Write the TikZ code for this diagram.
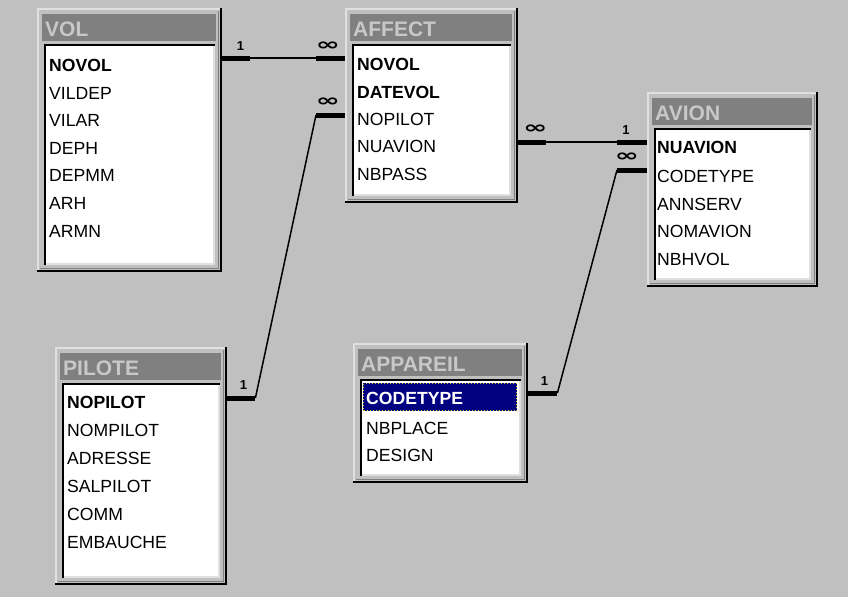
\documentclass[tikz,border=0pt]{standalone}
\usepackage{fontspec}
\setmainfont{Liberation Sans}
\newfontfamily\dejavu{DejaVu Sans}
\usepackage{tikz}
\usetikzlibrary{calc,positioning}
\definecolor{winface}{HTML}{C0C0C0}
\definecolor{winshadow}{HTML}{808080}
\definecolor{winlight}{HTML}{E0E0E0}
\definecolor{titlegray}{HTML}{C8C8C8}
\definecolor{selnavy}{HTML}{000080}
\tikzset{%
	tabbox/.style   = {inner sep=0pt, anchor=north west},
	field/.style    = {right, inner sep=0pt, font=\fontsize{17.6}{20}\selectfont},
	tabtitle/.style = {right, inner sep=0pt, text=titlegray, font=\fontsize{21}{24}\selectfont\bfseries},
	link/.style     = {line width=1.5pt},
	stub/.style     = {line width=5pt},
	card/.style     = {inner sep=0pt, font=\fontsize{13}{14}\selectfont\bfseries},
}
\newcommand{\many}{{\dejavu\bfseries\fontsize{17}{17}\selectfont\scalebox{1.7}[1]{∞}}}
% table window: name, x1, y1, x2, y2, title
\newcommand{\dbtable}[6]{%
	\fill[winface] (#2,#3) rectangle (#4,#5);
	\draw[winlight, line width=2pt] (#2+1,#5-1) -- (#2+1,#3+1) -- (#4-1,#3+1);
	\draw[black, line width=2pt] (#2,#5-1) -- (#4-1,#5-1) -- (#4-1,#3);
	\draw[winshadow, line width=1.5pt] (#2+3,#5-3.5) -- (#4-3.5,#5-3.5) -- (#4-3.5,#3+3);
	\fill[winshadow] (#2+5,#3+6) rectangle (#4-6,#3+33);
	\node[tabtitle] at (#2+8,#3+21) {#6};
	\fill[white] (#2+7,#3+36) rectangle (#4-7,#5-7);
	\draw[winlight, line width=2pt] (#2+7,#5-8) -- (#4-8,#5-8) -- (#4-8,#3+36);
	\draw[black, line width=2pt] (#2+8,#5-7) -- (#2+8,#3+37) -- (#4-7,#3+37);
	\node[tabbox, minimum width={(#4-#2)*1pt}, minimum height={(#5-#3)*1pt}] (#1) at (#2,#3) {};
}

\begin{document}
\begin{tikzpicture}[x=1pt,y=-1pt]
	\fill[winface] (0,0) rectangle (848,597);
	
	\dbtable{vol}{37}{8}{222}{272}{VOL}
	\dbtable{affect}{345}{8}{518}{203}{AFFECT}
	\dbtable{avion}{647}{92}{818}{287}{AVION}
	\dbtable{pilote}{55}{347}{227}{585}{PILOTE}
	\dbtable{appareil}{353}{343}{528}{483}{APPAREIL}
	
	\node[field] (volNovol)  at (49,65)  {\textbf{NOVOL}};
	\node[field] (volVildep) at (49,93)  {VILDEP};
	\node[field] (volVilar)  at (49,120) {VILAR};
	\node[field] (volDeph)   at (49,148) {DEPH};
	\node[field] (volDepmm)  at (49,175) {DEPMM};
	\node[field] (volArh)    at (49,203) {ARH};
	\node[field] (volArmn)   at (49,231) {ARMN};
	
	\node[field] (affNovol)   at (357,64)  {\textbf{NOVOL}};
	\node[field] (affDatevol) at (357,92)  {\textbf{DATEVOL}};
	\node[field] (affNopilot) at (357,119) {NOPILOT};
	\node[field] (affNuavion) at (357,146) {NUAVION};
	\node[field] (affNbpass)  at (357,174) {NBPASS};
	
	\node[field] (avNuavion)  at (657,147) {\textbf{NUAVION}};
	\node[field] (avCodetype) at (657,176) {CODETYPE};
	\node[field] (avAnnserv)  at (657,204) {ANNSERV};
	\node[field] (avNomavion) at (657,231) {NOMAVION};
	\node[field] (avNbhvol)   at (657,259) {NBHVOL};
	
	\node[field] (pilNopilot)  at (67,402) {\textbf{NOPILOT}};
	\node[field] (pilNompilot) at (67,430) {NOMPILOT};
	\node[field] (pilAdresse)  at (67,458) {ADRESSE};
	\node[field] (pilSalpilot) at (67,486) {SALPILOT};
	\node[field] (pilComm)     at (67,514) {COMM};
	\node[field] (pilEmbauche) at (67,542) {EMBAUCHE};
	
	\fill[selnavy] (363,383) rectangle (517,411);
	\draw[yellow!85!black, dotted, line width=1pt] (363.5,383.5) rectangle (516.5,410.5);
	\node[field, text=white] (appCodetype) at (366,398) {\textbf{CODETYPE}};
	\node[field] (appNbplace) at (366,428) {NBPLACE};
	\node[field] (appDesign)  at (366,455) {DESIGN};
	
	% relations
	\coordinate (volR)  at (vol.east |- 0,58);
	\coordinate (affL1) at (affect.west |- 0,58);
	\coordinate (affL2) at (affect.west |- 0,115);
	\coordinate (pilR)  at (pilote.east |- 0,398);
	\coordinate (affR)  at (affect.east |- 0,142);
	\coordinate (avL1)  at (avion.west |- 0,142);
	\coordinate (avL2)  at (avion.west |- 0,170);
	\coordinate (appR)  at (appareil.east |- 0,393);
	
	\draw[link] (volR) -- (affL1);
	\draw[stub] (volR) -- ++(28,0);
	\draw[stub] (affL1) -- ++(-29,0);
	\node[card] at ($(volR)+(18,-12)$) {1};
	\node[card] at ($(affL1)+(-17,-12)$) {\many};
	
	\draw[stub] (pilR) -- ++(28,0) coordinate (pilK);
	\draw[stub] (affL2) -- ++(-29,0) coordinate (affK);
	\draw[link] (pilK) -- (affK);
	\node[card] at ($(pilR)+(16,-13)$) {1};
	\node[card] at ($(affL2)+(-17,-13)$) {\many};
	
	\draw[link] (affR) -- (avL1);
	\draw[stub] (affR) -- ++(28,0);
	\draw[stub] (avL1) -- ++(-30,0);
	\node[card] at ($(affR)+(17,-13)$) {\many};
	\node[card] at ($(avL1)+(-21,-12)$) {1};
	
	\draw[stub] (appR) -- ++(29,0) coordinate (appK);
	\draw[stub] (avL2) -- ++(-30,0) coordinate (avK);
	\draw[link] (appK) -- (avK);
	\node[card] at ($(appR)+(16,-12)$) {1};
	\node[card] at ($(avL2)+(-20,-13)$) {\many};
\end{tikzpicture}
\end{document}
